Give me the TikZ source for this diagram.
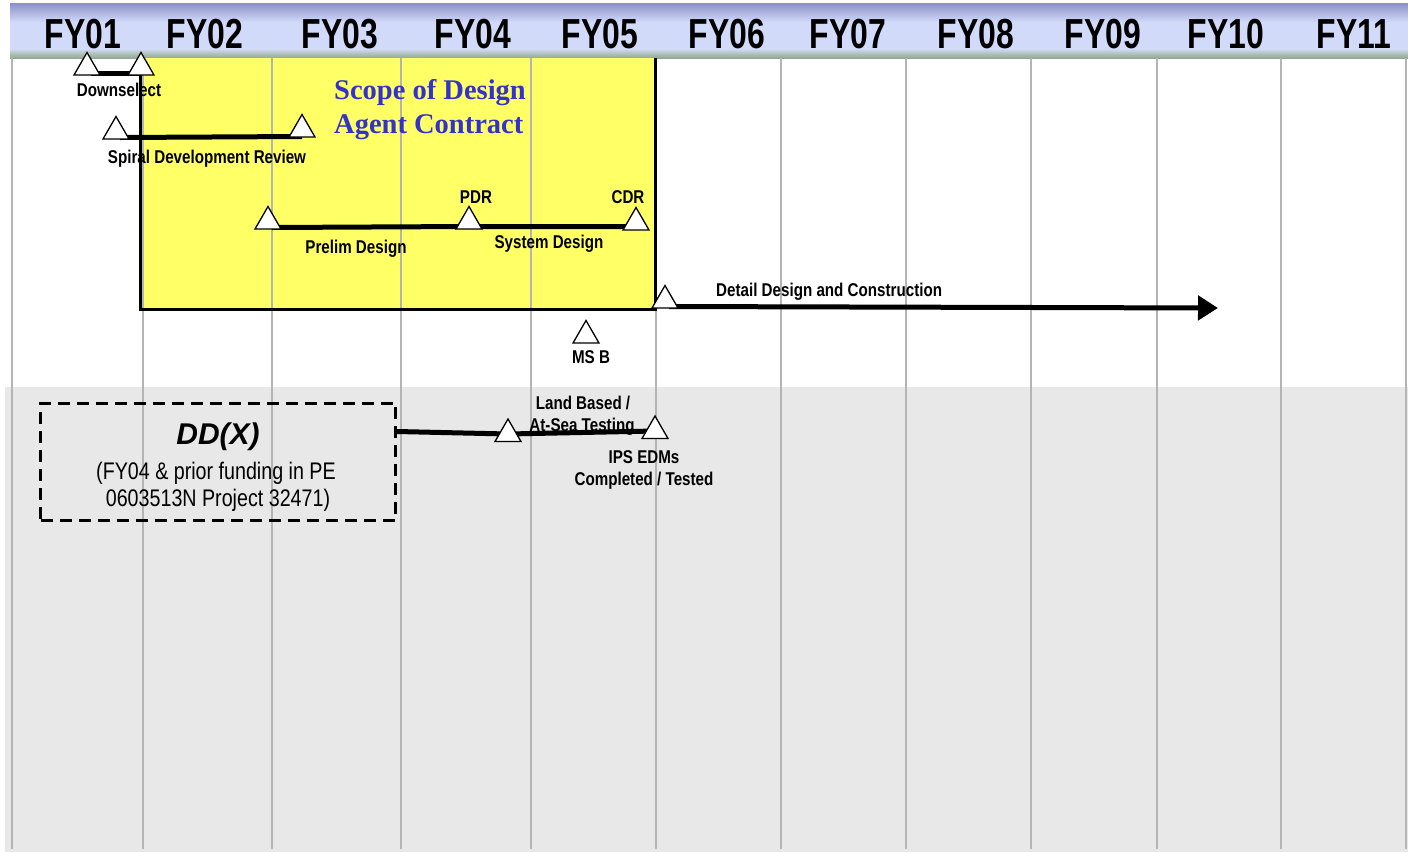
\documentclass[tikz,border=0pt]{standalone}
\usepackage{fontspec}
\setmainfont{Liberation Sans}
\newfontfamily\nb[FakeStretch=0.82]{Liberation Sans}
\newfontfamily\hd[FakeStretch=0.76]{Liberation Sans}
\newfontfamily\sr{Liberation Serif}
\usetikzlibrary{shapes.geometric,arrows.meta,calc}
\pgfdeclarelayer{bg}\pgfdeclarelayer{ln}\pgfsetlayers{bg,ln,main}
\definecolor{hdtop}{HTML}{8A90C8}
\definecolor{hdmid}{HTML}{D2DAFA}
\definecolor{hdlow}{HTML}{C8D4E0}
\definecolor{hdbot}{HTML}{92A892}
\definecolor{bggray}{HTML}{E8E8E8}
\definecolor{gridgray}{HTML}{B4B4B4}
\definecolor{yel}{HTML}{FFFF66}
\definecolor{scopeblue}{HTML}{3333CC}
\begin{document}
\begin{tikzpicture}[x=1pt,y=-1pt,
  ms/.style={regular polygon, regular polygon sides=3, draw=black, fill=white,
    line width=1.3pt, minimum size=30pt, inner sep=0pt},
  lab/.style={font={\nb\bfseries\fontsize{18.5}{20}\selectfont}, inner sep=0pt, anchor=base},
  fy/.style={font={\hd\bfseries\fontsize{42}{44}\selectfont}, inner sep=0pt, anchor=base},
  scope/.style={font={\sr\bfseries\fontsize{28.5}{30}\selectfont}, text=scopeblue, inner sep=0pt, anchor=base west},
  ddbody/.style={font={\nb\fontsize{24}{26}\selectfont}, inner sep=0pt, anchor=base},
  gridline/.style={draw=gridgray, line width=1.5pt},
  bar/.style={line width=5pt},
  edge/.style={line width=3pt}]
\useasboundingbox (0,0) rectangle (1408,852);
\begin{pgfonlayer}{bg}
  \fill[white] (0,0) rectangle (1408,852);
  \fill[bggray] (5,387) rectangle (1408,852);
  \shade[top color=hdtop, bottom color=hdmid] (10,3) rectangle (1408,22);
  \fill[hdmid] (10,22) rectangle (1408,50);
  \shade[top color=hdlow, bottom color=hdbot] (10,50) rectangle (1408,58);
  \fill[yel] (140,58) rectangle (655,309);
  \foreach \x in {12,143,272,401,531,656,781,906,1031,1157,1281,1406}
    \draw[gridline] (\x,58) -- (\x,849);
  \draw[edge] (140,75) -- (140,309) -- (655,309) -- (655,58);
\end{pgfonlayer}

% header
\node[fy] (fy01) at (83,48) {FY01};
\node[fy] (fy02) at (205,48) {FY02};
\node[fy] (fy03) at (340,48) {FY03};
\node[fy] (fy04) at (473,48) {FY04};
\node[fy] (fy05) at (600,48) {FY05};
\node[fy] (fy06) at (727,48) {FY06};
\node[fy] (fy07) at (848,48) {FY07};
\node[fy] (fy08) at (976,48) {FY08};
\node[fy] (fy09) at (1103,48) {FY09};
\node[fy] (fy10) at (1226,48) {FY10};
\node[fy] (fy11) at (1354,48) {FY11};

% scope text
\node[scope] (sc1) at (334,99) {Scope of Design};
\node[scope] (sc2) at (334,133) {Agent Contract};

% milestones
\node[ms] (ds1) at (87,67.5) {};
\node[ms] (ds2) at (141,67.5) {};
\node[ms] (sd1) at (116,131.5) {};
\node[ms] (sd2) at (302,129.5) {};
\node[ms] (pd1) at (268,221.5) {};
\node[ms] (pdr) at (469,221.5) {};
\node[ms] (cdr) at (636,222.5) {};
\node[ms] (ddc) at (665,300.5) {};
\node[ms] (msb) at (586,335.5) {};
\node[ms] (lbt) at (508,434) {};
\node[ms] (ips) at (655,431) {};
\coordinate (arrowend) at (1218,308);

% labels
\node[lab] (l1) at (119,96) {Downselect};
\node[lab] (l2) at (207,163) {Spiral Development Review};
\node[lab] (l3) at (476,203) {PDR};
\node[lab] (l4) at (628,203) {CDR};
\node[lab] (l5) at (356,253) {Prelim Design};
\node[lab] (l6) at (549,248) {System Design};
\node[lab, anchor=base west] (l7) at (716,296) {Detail Design and Construction};
\node[lab] (l8) at (591,363) {MS B};
\node[lab] (l9) at (583,409) {Land Based /};
\node[lab] (l10) at (582,431) {At-Sea Testing};
\node[lab] (l11) at (644,463) {IPS EDMs};
\node[lab] (l12) at (644,485) {Completed / Tested};

% DD(X) box
\node[draw=black, line width=3pt, dash pattern=on 12pt off 7pt, minimum width=355pt,
  minimum height=117pt, inner sep=0pt] (ddx) at (218,461.5) {};
\node[font={\bfseries\itshape\fontsize{30}{32}\selectfont}, inner sep=0pt, anchor=base] (ddt) at (218,444) {DD(X)};
\node[ddbody] (dd1) at (216,479) {(FY04 \& prior funding in PE};
\node[ddbody] (dd2) at (218,506) {0603513N Project 32471)};

% connectors
\begin{pgfonlayer}{ln}
  \draw[bar] ($(ds1.center)+(4,6)$) -- ($(ds2.center)+(0,6)$);
  \draw[bar] ($(sd1.center)+(4,6)$) -- ($(sd2.center)+(0,7)$);
  \draw[bar] ($(pd1.center)+(4,6)$) -- ($(pdr.center)+(0,5)$) -- ($(cdr.center)+(0,4)$);
  \draw[bar, -{Triangle[length=20pt,width=24pt]}] ($(ddc.center)+(4,6)$) -- (arrowend);
  \draw[bar] ($(ddx.north east)!0.25!(ddx.south east)$) -- (lbt.center) -- (ips.center);
\end{pgfonlayer}
\end{tikzpicture}
\end{document}
